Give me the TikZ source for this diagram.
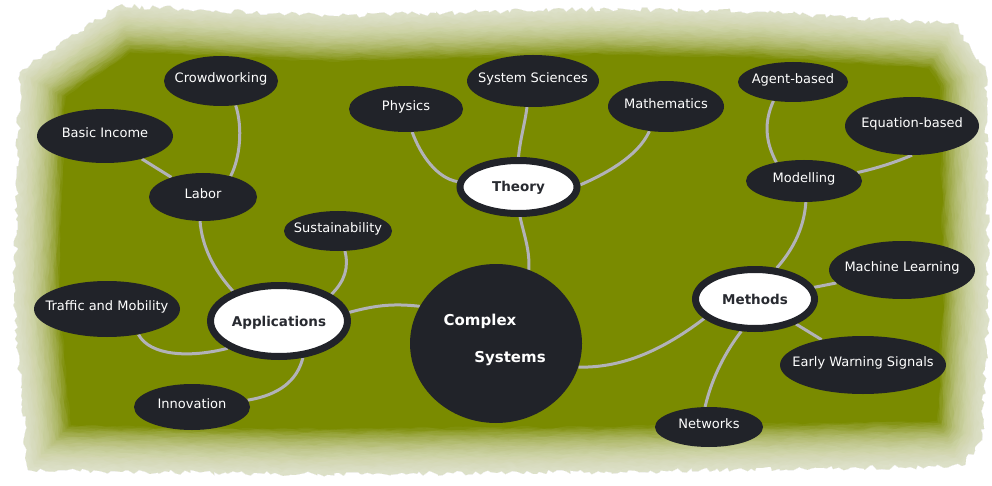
\documentclass[tikz,border=0pt]{standalone}
\usepackage{fontspec}
\setmainfont{DejaVu Sans}
\usetikzlibrary{shapes.geometric,decorations.pathmorphing}
\pgfdeclarelayer{bglayer}
\pgfdeclarelayer{edgelayer}
\pgfsetlayers{bglayer,edgelayer,main}
\definecolor{bggreen}{RGB}{122,139,0}
\definecolor{nodedark}{RGB}{33,35,41}
\definecolor{nodetext}{RGB}{40,42,48}
\definecolor{linkgray}{RGB}{178,178,184}
\newcommand\mmtxt[1]{\makebox[0pt]{#1}}
\begin{document}
\begin{tikzpicture}[x=1pt,y=-1pt,
  leaf/.style={ellipse, fill=nodedark, text=white, inner sep=0pt,
    font=\fontsize{13}{15}\selectfont, text height=9.5pt, text depth=6pt},
  hub/.style={ellipse, fill=white, draw=nodedark, line width=7pt, text=nodetext,
    inner sep=0pt, font=\fontsize{13.5}{16}\selectfont\bfseries, text height=10pt, text depth=0pt},
  cstext/.style={inner sep=0pt, text=white, font=\fontsize{15}{18}\selectfont\bfseries,
    text height=11pt, text depth=0pt},
  link/.style={draw=linkgray, line width=3pt},
  rough/.style={decorate, decoration={random steps, segment length=4pt, amplitude=2.5pt}}]
\pgfmathsetseed{7}
\useasboundingbox (0,0) rectangle (992,486);

\begin{pgfonlayer}{bglayer}
  \fill[bggreen, rough] (20,72) -- (118,6) -- (330,16) -- (600,9) -- (760,12) -- (955,24) -- (986,72) -- (988,300) -- (982,440) -- (962,466) -- (600,472) -- (300,474) -- (28,470) -- (14,300) -- cycle;
  \foreach \i in {1,...,40}
    \draw[white, opacity=0.042, line width=2.2*\i pt, line join=round, rough]
      (20,72) -- (118,6) -- (330,16) -- (600,9) -- (760,12) -- (955,24) -- (986,72) -- (988,300) -- (982,440) -- (962,466) -- (600,472) -- (300,474) -- (28,470) -- (14,300) -- cycle;
\end{pgfonlayer}

% central node
\node[ellipse, fill=nodedark, minimum width=172pt, minimum height=159pt, inner sep=0pt] (cs) at (496,343.5) {};
\node[cstext] (cs1) at (480,319.5) {Complex};
\node[cstext] (cs2) at (510,357) {Systems};

% hubs
\node[hub, minimum width=137pt, minimum height=71pt] (apps) at (279,321) {\mmtxt{Applications}};
\node[hub, minimum width=117pt, minimum height=53pt] (theory) at (518.5,187) {\mmtxt{Theory}};
\node[hub, minimum width=119pt, minimum height=59pt] (methods) at (755,299) {\mmtxt{Methods}};

% applications branch
\node[leaf, minimum width=114pt, minimum height=50pt] (crowd) at (221,81) {\mmtxt{Crowdworking}};
\node[leaf, minimum width=136pt, minimum height=54pt] (basic) at (105,136) {\mmtxt{Basic Income}};
\node[leaf, minimum width=108pt, minimum height=48pt] (labor) at (203,197) {\mmtxt{Labor}};
\node[leaf, minimum width=108pt, minimum height=40pt] (sust) at (338,231) {\mmtxt{Sustainability}};
\node[leaf, minimum width=146pt, minimum height=56pt] (traffic) at (107,309) {\mmtxt{Traffic and Mobility}};
\node[leaf, minimum width=116pt, minimum height=46pt] (innov) at (192,407) {\mmtxt{Innovation}};

% theory branch
\node[leaf, minimum width=114pt, minimum height=46pt] (physics) at (406,109) {\mmtxt{Physics}};
\node[leaf, minimum width=132pt, minimum height=52pt] (syssci) at (533,81) {\mmtxt{System Sciences}};
\node[leaf, minimum width=116pt, minimum height=51pt] (math) at (666,106.5) {\mmtxt{Mathematics}};

% methods branch
\node[leaf, minimum width=110pt, minimum height=40pt] (agent) at (793,82) {\mmtxt{Agent-based}};
\node[leaf, minimum width=134pt, minimum height=58pt] (equation) at (912,126) {\mmtxt{Equation-based}};
\node[leaf, minimum width=116pt, minimum height=42pt] (modelling) at (804,181) {\mmtxt{Modelling}};
\node[leaf, minimum width=146pt, minimum height=58pt] (ml) at (902,270) {\mmtxt{Machine Learning}};
\node[leaf, minimum width=166pt, minimum height=58pt] (ews) at (863,365) {\mmtxt{Early Warning Signals}};
\node[leaf, minimum width=108pt, minimum height=40pt] (networks) at (709,427) {\mmtxt{Networks}};

\begin{pgfonlayer}{edgelayer}
  \draw[link] (basic) -- (labor);
  \draw[link] (labor.37) .. controls (240,158) and (243,128) .. (crowd.-59);
  \draw[link] (labor.-97) .. controls (202,246) and (213,269) .. (apps.147);
  \draw[link] (sust.-71) .. controls (349,267) and (345,281) .. (apps.27);
  \draw[link] (apps.7) .. controls (373,306) and (391,303) .. (cs.154);
  \draw[link] (traffic.-39) .. controls (150,356) and (190,358) .. (apps.208);
  \draw[link] (innov.7) .. controls (279,395) and (297,381) .. (apps.-57);
  \draw[link] (physics.-75) .. controls (421,156) and (437,178) .. (theory.175);
  \draw[link] (syssci.-103) .. controls (525,123) and (520,140) .. (theory.90);
  \draw[link] (math.-124) .. controls (638,157) and (603,175) .. (theory.2);
  \draw[link] (theory.-87) .. controls (524,235) and (530,250) .. (cs.66);
  \draw[link] (agent.-136) .. controls (764,122) and (765,141) .. (modelling.146);
  \draw[link] (equation.-90) .. controls (896,162) and (878,168) .. (modelling.9);
  \draw[link] (modelling.-85) .. controls (804,231) and (790,253) .. (methods.55);
  \draw[link] (methods) -- (ml);
  \draw[link] (methods) -- (ews);
  \draw[link] (methods.-113) .. controls (726,351) and (712,377) .. (networks.101);
  \draw[link] (methods.-159) .. controls (659,353) and (619,368) .. (cs.-16);
\end{pgfonlayer}
\end{tikzpicture}
\end{document}
